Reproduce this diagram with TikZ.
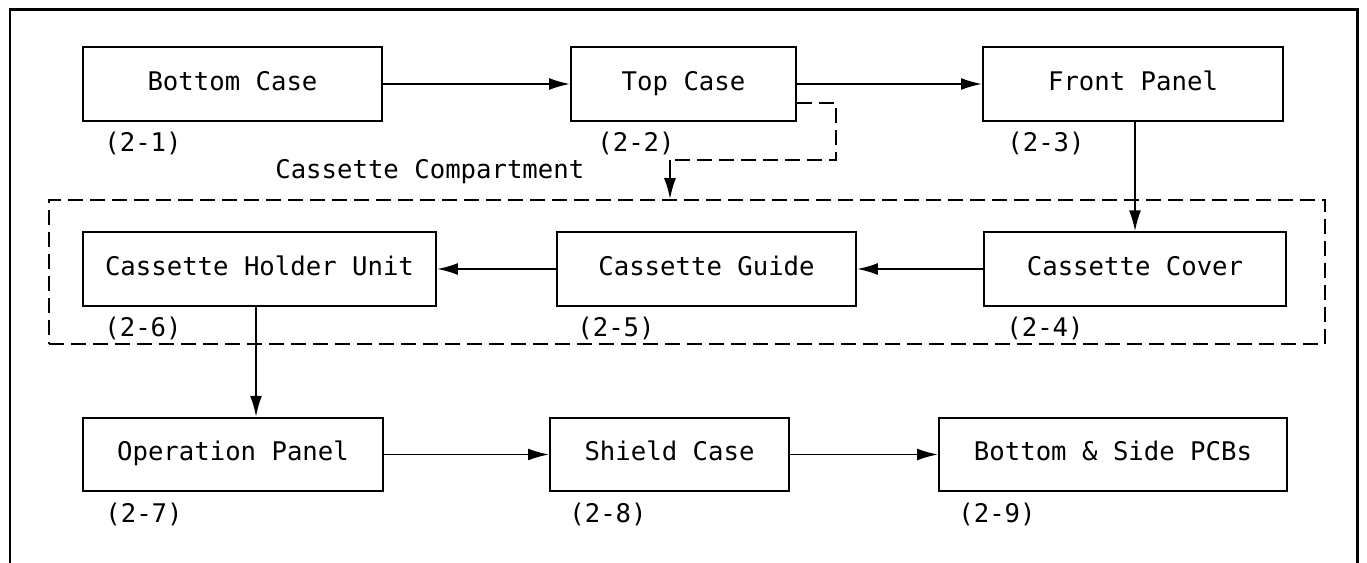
\documentclass[tikz,border=0pt]{standalone}
\usepackage{fontspec}
\setmonofont{DejaVu Sans Mono}
\usetikzlibrary{arrows.meta}

\begin{document}
\begin{tikzpicture}[font=\ttfamily\fontsize{14.6}{17}\selectfont,
    part/.style={draw, line width=1.1pt, minimum height=1.47cm, inner sep=0pt,
      text height=0.73em, text depth=0pt},
    tag/.style={anchor=north west, inner sep=0pt},
    arr/.style={-{Latex[length=4.2mm,width=2.4mm]}, line width=1.1pt},
    dashline/.style={line width=1pt, dash pattern=on 0.3cm off 0.14cm}]
  \useasboundingbox (0,0) rectangle (27.34,11.26);
  % cadre ouvert en bas : la page est coupee a cet endroit
  \draw[line width=1.7pt] (0.2,0) |- (27.14,11.06) -- (27.14,0);

  % premiere rangee
  \node[part, minimum width=5.98cm] (bc) at (4.65,9.58) {Bottom Case};
  \node[part, minimum width=4.5cm] (tc) at (13.67,9.58) {Top Case};
  \node[part, minimum width=6.0cm] (fp) at (22.66,9.58) {Front Panel};
  \node[tag] (n1) at ([shift={(0.44,-0.2)}]bc.south west) {(2-1)};
  \node[tag] (n2) at ([shift={(0.54,-0.2)}]tc.south west) {(2-2)};
  \node[tag] (n3) at ([shift={(0.5,-0.2)}]fp.south west) {(2-3)};

  % compartiment cassette (cadre tirete)
  \node[dashline, draw, minimum width=25.52cm, minimum height=2.88cm] (comp) at (13.74,5.82) {};
  \node[anchor=west, inner sep=0pt] (comptxt) at (5.5,7.82) {Cassette Compartment};

  % deuxieme rangee
  \node[part, minimum width=7.06cm] (chu) at (5.19,5.88) {Cassette Holder Unit};
  \node[part, minimum width=5.98cm] (cg) at (14.13,5.88) {Cassette Guide};
  \node[part, minimum width=6.04cm] (cc) at (22.70,5.88) {Cassette Cover};
  \node[tag] (n6) at ([shift={(0.44,-0.2)}]chu.south west) {(2-6)};
  \node[tag] (n5) at ([shift={(0.42,-0.2)}]cg.south west) {(2-5)};
  \node[tag] (n4) at ([shift={(0.46,-0.2)}]cc.south west) {(2-4)};

  % troisieme rangee
  \node[part, minimum width=6.0cm] (op) at (4.66,2.17) {Operation Panel};
  \node[part, minimum width=4.78cm] (sc) at (13.39,2.17) {Shield Case};
  \node[part, minimum width=6.96cm] (pcb) at (22.26,2.17) {Bottom \& Side PCBs};
  \node[tag] (n7) at ([shift={(0.46,-0.2)}]op.south west) {(2-7)};
  \node[tag] (n8) at ([shift={(0.4,-0.2)}]sc.south west) {(2-8)};
  \node[tag] (n9) at ([shift={(0.4,-0.2)}]pcb.south west) {(2-9)};

  % fleches
  \draw[arr] (bc) -- (tc);
  \draw[arr] (tc) -- (fp);
  \draw[arr] (cc.north |- fp.south) -- (cc.north);
  \draw[arr] (cc) -- (cg);
  \draw[arr] (cg) -- (chu);
  \draw[arr] (chu.south -| 5.12,0) -- (op.north -| 5.12,0);
  \draw[arr] (op) -- (sc);
  \draw[arr] (sc) -- (pcb);

  % renvoi tirete du Top Case vers le compartiment
  \coordinate (bend) at (13.4,8.06);
  \draw[dashline] ([yshift=-0.38cm]tc.east) -| (16.72,8.06) -- (bend);
  \draw[arr] (bend) -- (bend |- comp.north);
\end{tikzpicture}
\end{document}
